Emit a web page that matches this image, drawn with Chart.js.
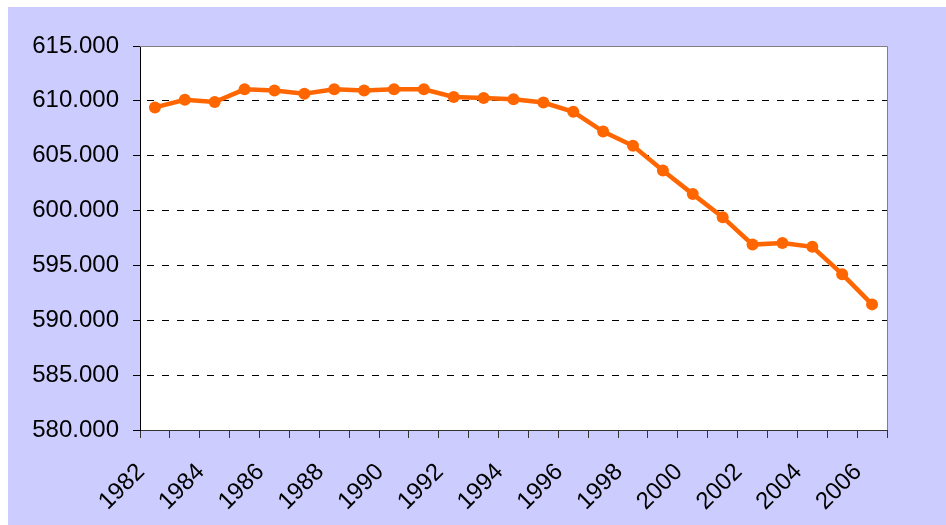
<!DOCTYPE html>
<html>
<head>
<meta charset="utf-8">
<script src="https://cdn.jsdelivr.net/npm/chart.js@4"></script>
<style>
  html, body { margin: 0; padding: 0; background: #ffffff; }
  #box { position: absolute; left: 8px; top: 7px; width: 938px; height: 518px; background: #ccccff; }
</style>
</head>
<body>
<div id="box"><canvas id="myChart"></canvas></div>
<script>
// years on the x axis, only every other one gets a label
const years = ['1982','1983','1984','1985','1986','1987','1988','1989','1990','1991','1992','1993',
  '1994','1995','1996','1997','1998','1999','2000','2001','2002','2003','2004','2005','2006'];
// values in thousands (615.000 = 615 thousand)
const values = [609.4, 610.1, 609.9, 611.05, 610.95, 610.65, 611.05, 610.95, 611.05, 611.05, 610.35, 610.25,
  610.15, 609.85, 609.0, 607.2, 605.9, 603.65, 601.5, 599.4, 596.9, 597.05, 596.7, 594.2, 591.45];
const yMin = 580;
const yMax = 615;
const yStep = 5;

const font = "'Liberation Sans', Arial, sans-serif";

// white plot area + grey frame on top and right
const frame = {
  id: 'frame',
  beforeDraw(chart) {
    const a = chart.chartArea, c = chart.ctx;
    c.save();
    c.fillStyle = '#ffffff';
    c.fillRect(a.left, a.top, a.right - a.left, a.bottom - a.top);
    c.restore();
  },
  afterDraw(chart) {
    const a = chart.chartArea, c = chart.ctx;
    c.save();
    c.strokeStyle = '#808080';
    c.lineWidth = 1;
    c.beginPath();
    c.moveTo(a.left, Math.round(a.top) + 0.5);
    c.lineTo(Math.round(a.right) + 0.5, Math.round(a.top) + 0.5);
    c.lineTo(Math.round(a.right) + 0.5, a.bottom);
    c.stroke();
    c.restore();
  }
};

const ctx = document.getElementById('myChart').getContext('2d');
const myChart = new Chart(ctx, {
  type: 'line',
  data: {
    labels: years,
    datasets: [{
      data: values,
      borderColor: '#ff6600',
      backgroundColor: '#ff6600',
      borderWidth: 4.5,
      pointRadius: 6,
      pointHoverRadius: 6,
      pointBorderWidth: 0,
      pointBackgroundColor: '#ff6600',
      tension: 0
    }]
  },
  options: {
    responsive: true,
    maintainAspectRatio: false,
    animation: false,
    layout: { padding: { top: 39, right: 59, bottom: 0, left: 0 } },
    plugins: { legend: { display: false }, tooltip: { enabled: false } },
    scales: {
      x: {
        offset: true,
        grid: {
          offset: true,
          drawOnChartArea: false,
          drawTicks: true,
          tickLength: 8,
          tickColor: '#333333'
        },
        border: { color: '#333333', width: 1 },
        ticks: {
          autoSkip: false,
          maxRotation: 45,
          minRotation: 45,
          padding: 20,
          labelOffset: -14,
          color: '#000000',
          font: { family: font, size: 24 },
          callback: function (v, i) { return i % 2 === 0 ? years[i] : ''; }
        },
        afterFit: function (s) { s.height = 95; }
      },
      y: {
        min: yMin,
        max: yMax,
        grid: {
          color: function (c) {
            return (c.tick.value === yMin || c.tick.value === yMax) ? 'rgba(0,0,0,0)' : '#000000';
          },
          lineWidth: 1,
          tickLength: 7,
          tickColor: '#000000',
          tickBorderDash: []
        },
        border: { color: '#000000', width: 1, dash: [7, 8], dashOffset: 9 },
        ticks: {
          stepSize: yStep,
          padding: 14,
          color: '#000000',
          font: { family: font, size: 24 },
          callback: function (v) { return v + '.000'; }
        },
        afterFit: function (s) { s.width = 132; }
      }
    }
  },
  plugins: [frame]
});
</script>
</body>
</html>
